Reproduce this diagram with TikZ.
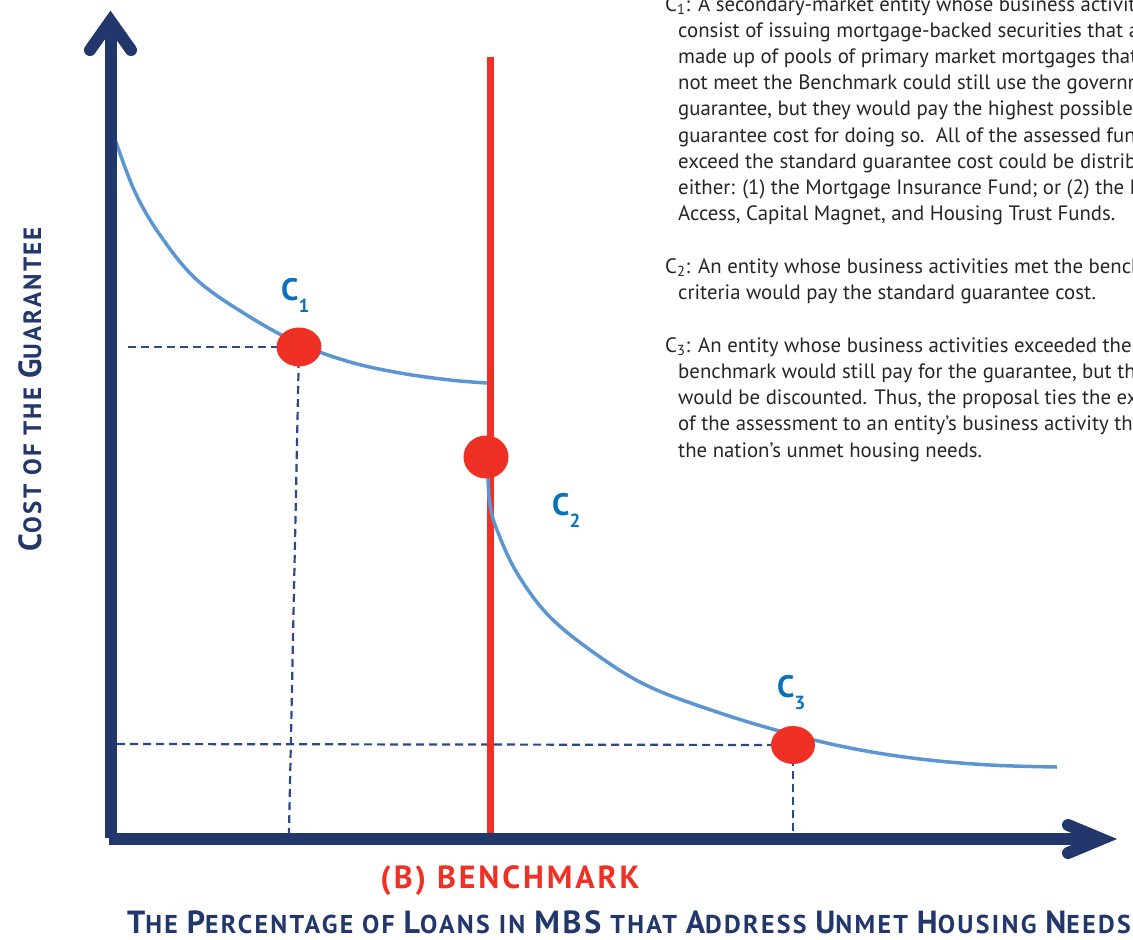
\documentclass[tikz,border=0pt]{standalone}
\usepackage{fontspec}
\setmainfont{PT Sans}
\newfontfamily\lblfont[LetterSpace=9]{PT Sans}
\usetikzlibrary{shapes.geometric}
\definecolor{navy}{HTML}{22376B}
\definecolor{guidec}{HTML}{2C4A86}
\definecolor{curveblue}{HTML}{5B96D2}
\definecolor{redc}{HTML}{EE3124}
\definecolor{labelblue}{HTML}{0A72BA}
\definecolor{bodytext}{HTML}{262626}
\def\bigsz{32}
\def\smlsz{25.8}
\newcommand\bigc[1]{{\fontsize{\bigsz}{\bigsz}\selectfont #1}}
\newcommand\smlc[1]{{\fontsize{\smlsz}{\smlsz}\selectfont #1}}
\newcommand\clab[1]{{\fontsize{31}{31}\selectfont C}\raisebox{-12pt}{\fontsize{19}{19}\selectfont #1}}
\begin{document}
\begin{tikzpicture}[x=1pt,y=-1pt,
  axisline/.style={fill=navy},
  arrowhead/.style={draw=navy, line width=12pt, line cap=round, line join=miter},
  guide/.style={draw=guidec, line width=2.2pt, dash pattern=on 8pt off 5pt},
  costcurve/.style={draw=curveblue, line width=3.5pt},
  bench/.style={draw=redc, line width=7pt},
  dot/.style={ellipse, fill=redc, inner sep=0pt},
  clabel/.style={text=labelblue, font=\bfseries, anchor=base west, inner sep=0pt},
  body/.style={text=bodytext, anchor=base west, inner sep=0pt, font=\fontsize{20.8}{26}\selectfont},
]
\useasboundingbox (0,0) rectangle (1133,940);

% description text
\node[body] (t1) at (665,11) {\makebox[33pt][l]{C\textsubscript{1}:}A secondary-market entity whose business activities};
\node[body] (t2) at (678,37.2) {consist of issuing mortgage-backed securities that are};
\node[body] (t3) at (678,63.4) {made up of pools of primary market mortgages that};
\node[body] (t4) at (678,89.6) {not meet the Benchmark could still use the government};
\node[body] (t5) at (678,115.8) {guarantee, but they would pay the highest possible};
\node[body] (t6) at (678,142) {guarantee cost for doing so.\ \ All of the assessed funds};
\node[body] (t7) at (678,168.2) {exceed the standard guarantee cost could be distributed};
\node[body] (t8) at (678,194.4) {either: (1) the Mortgage Insurance Fund; or (2) the Market};
\node[body] (t9) at (678,220.6) {Access, Capital Magnet, and Housing Trust Funds.};
\node[body] (u1) at (665,273) {\makebox[33pt][l]{C\textsubscript{2}:}An entity whose business activities met the benchmark};
\node[body] (u2) at (678,299.5) {criteria would pay the standard guarantee cost.};
\node[body] (w1) at (665,352) {\makebox[33pt][l]{C\textsubscript{3}:}An entity whose business activities exceeded the};
\node[body] (w2) at (678,378.3) {benchmark would still pay for the guarantee, but the};
\node[body] (w3) at (678,404.5) {would be discounted. Thus, the proposal ties the extent};
\node[body] (w4) at (678,430.8) {of the assessment to an entity’s business activity that};
\node[body] (w5) at (678,457) {the nation’s unmet housing needs.};

% key points
\coordinate (p1) at (299,347);
\coordinate (p2) at (486,457);
\coordinate (p3) at (793,745);
\coordinate (h1) at (128,347);
\coordinate (v1) at (289,833);
\coordinate (h3) at (117,744);
\coordinate (v3) at (793,833);

% guides
\draw[guide] (h1) -- (p1);
\draw[guide] (p1) -- (v1);
\draw[guide] (h3) -- (p3);
\draw[guide] (p3) -- (v3);

% benchmark line
\coordinate (btop) at (490,57);
\coordinate (bbot) at (490,838);
\draw[bench] (btop) -- (bbot);

% cost curves
\draw[costcurve] plot[smooth, tension=0.6] coordinates {(116,142) (135,192) (160,235) (197,280) (250,317) (300,344) (350,362) (400,373) (450,380) (487,383)};
\draw[costcurve] plot[smooth, tension=0.6] coordinates {(488,478) (490,505) (497,530) (517,573) (550,617) (600,657) (650,687) (717,712) (783,732) (850,748) (920,759) (990,765) (1057,767)};

% dots
\node[dot, minimum width=45pt, minimum height=39pt] (c1) at (p1) {};
\node[dot, minimum width=45pt, minimum height=43pt] (c2) at (p2) {};
\node[dot, minimum width=44pt, minimum height=38pt] (c3) at (p3) {};

% labels
\node[clabel] (l1) at (281,300) {\clab{1}};
\node[clabel] (l2) at (552,515) {\clab{2}};
\node[clabel] (l3) at (777,697) {\clab{3}};

% axes
\coordinate (ytop) at (110.5,21);
\coordinate (xend) at (1101.5,839);
\fill[axisline] (104.5,838) rectangle (116.5,25);
\fill[axisline] (109,833) rectangle (1100,845);
\coordinate (ya) at (90,50);
\coordinate (yb) at (131,50);
\draw[arrowhead] (ya) -- (ytop) -- (yb);
\coordinate (xa) at (1068,825);
\coordinate (xb) at (1068,853);
\draw[arrowhead] (xa) -- (xend) -- (xb);

% axis titles
\node[text=redc, font=\lblfont\bfseries\fontsize{32}{32}\selectfont, anchor=base, inner sep=0pt] (bm) at (510,888) {(B) BENCHMARK};
\node[text=navy, font=\lblfont\bfseries\fontsize{25.8}{26}\selectfont, anchor=base west, inner sep=0pt] (xl) at (127,933) {\bigc{T}\smlc{HE} \bigc{P}\smlc{ERCENTAGE OF} \bigc{L}\smlc{OANS IN} \bigc{MBS} \smlc{THAT} \bigc{A}\smlc{DDRESS} \bigc{U}\smlc{NMET} \bigc{H}\smlc{OUSING} \bigc{N}\smlc{EEDS}};
\node[text=navy, font=\lblfont\bfseries\fontsize{25}{25}\selectfont, anchor=base, rotate=90, inner sep=0pt] (yl) at (41,389) {\def\bigsz{32}\def\smlsz{25}\bigc{C}\smlc{OST OF THE} \bigc{G}\smlc{UARANTEE}};
\end{tikzpicture}
\end{document}
